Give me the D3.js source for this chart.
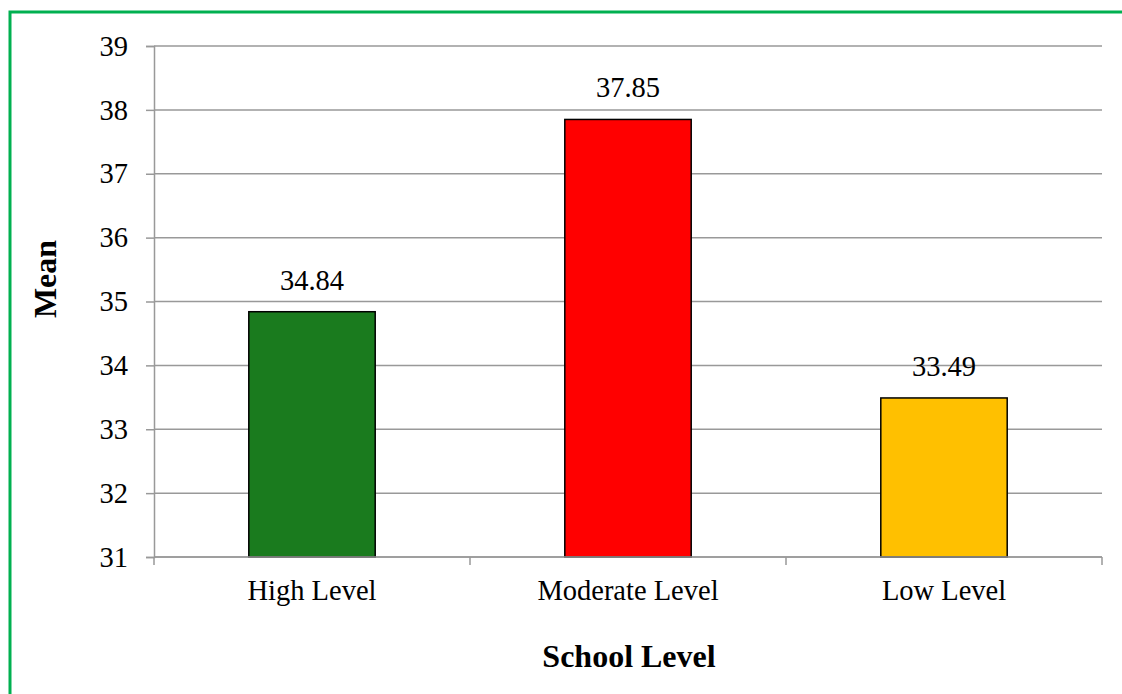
<!DOCTYPE html>
<html>
<head>
<meta charset="utf-8">
<script src="https://cdn.jsdelivr.net/npm/d3@7"></script>
<style>
  body { margin: 0; background: #fff; }
  text { font-family: "Liberation Serif", "Times New Roman", serif; fill: #000; }
</style>
</head>
<body>
<div id="chart"></div>
<script>
// chart data
const categories = ["High Level", "Moderate Level", "Low Level"];
const means = [34.84, 37.85, 33.49];
const barColors = ["#1a7b1e", "#ff0000", "#ffc000"];
const yTicks = [31, 32, 33, 34, 35, 36, 37, 38, 39];

const width = 1122;
const height = 694;
const margin = { top: 46, right: 20, bottom: 137, left: 154 };
const plotRight = 1102;
const labelSize = "28.5px";

const svg = d3.select("#chart").append("svg")
    .attr("width", width)
    .attr("height", height);

// green frame (only top and left visible)
svg.append("path")
    .attr("d", `M10,${height} L10,12 L${width},12`)
    .attr("fill", "none")
    .attr("stroke", "#00b050")
    .attr("stroke-width", 3);

const x = d3.scaleBand()
    .domain(categories)
    .range([margin.left, plotRight])
    .paddingInner(0.6)
    .paddingOuter(0.3);

const y = d3.scaleLinear()
    .domain([31, 39])
    .range([height - margin.bottom, margin.top]);

// gridlines
svg.append("g")
    .selectAll("line")
    .data(yTicks)
    .enter().append("line")
    .attr("x1", margin.left)
    .attr("x2", plotRight)
    .attr("y1", d => y(d))
    .attr("y2", d => y(d))
    .attr("stroke", "#999")
    .attr("stroke-width", 1.5);

// y axis
const yAxis = svg.append("g")
    .attr("transform", `translate(${margin.left},0)`)
    .call(d3.axisLeft(y).tickValues(yTicks).tickSize(8).tickPadding(18).tickFormat(d3.format("d")));
yAxis.select(".domain").attr("stroke", "#999").attr("stroke-width", 1.5);
yAxis.selectAll(".tick line").attr("stroke", "#999").attr("stroke-width", 1.5);
yAxis.selectAll("text")
    .attr("font-family", "Liberation Serif")
    .attr("font-size", null)
    .style("font-size", labelSize);

// x axis separators
const xBase = y(31);
const sepX = [margin.left, ...categories.slice(1).map(c => x(c) - x.step() * x.paddingInner() / 2), plotRight];
svg.append("g")
    .selectAll("line")
    .data(sepX)
    .enter().append("line")
    .attr("x1", d => d).attr("x2", d => d)
    .attr("y1", xBase).attr("y2", xBase + 8)
    .attr("stroke", "#999")
    .attr("stroke-width", 1.5);

// bars
svg.append("g")
    .selectAll("rect")
    .data(means)
    .enter().append("rect")
    .attr("x", (d, i) => x(categories[i]))
    .attr("y", d => y(d))
    .attr("width", x.bandwidth())
    .attr("height", d => y(31) - y(d))
    .attr("fill", (d, i) => barColors[i])
    .attr("stroke", "#000")
    .attr("stroke-width", 1.5);

// baseline on top of bars
svg.append("line")
    .attr("x1", margin.left).attr("x2", plotRight)
    .attr("y1", xBase).attr("y2", xBase)
    .attr("stroke", "#999").attr("stroke-width", 1.5);

// value labels
svg.append("g")
    .selectAll("text")
    .data(means)
    .enter().append("text")
    .attr("x", (d, i) => x(categories[i]) + x.bandwidth() / 2)
    .attr("y", d => y(d) - 22)
    .attr("text-anchor", "middle")
    .style("font-size", labelSize)
    .text(d => d.toFixed(2));

// category labels
svg.append("g")
    .selectAll("text")
    .data(categories)
    .enter().append("text")
    .attr("x", d => x(d) + x.bandwidth() / 2)
    .attr("y", xBase + 43)
    .attr("text-anchor", "middle")
    .style("font-size", labelSize)
    .text(d => d);

// axis titles
svg.append("text")
    .attr("x", 629)
    .attr("y", 667)
    .attr("text-anchor", "middle")
    .style("font-size", "32px")
    .style("font-weight", "bold")
    .text("School Level");

svg.append("text")
    .attr("transform", "translate(56,279) rotate(-90)")
    .attr("text-anchor", "middle")
    .style("font-size", "32px")
    .style("font-weight", "bold")
    .text("Mean");
</script>
</body>
</html>
